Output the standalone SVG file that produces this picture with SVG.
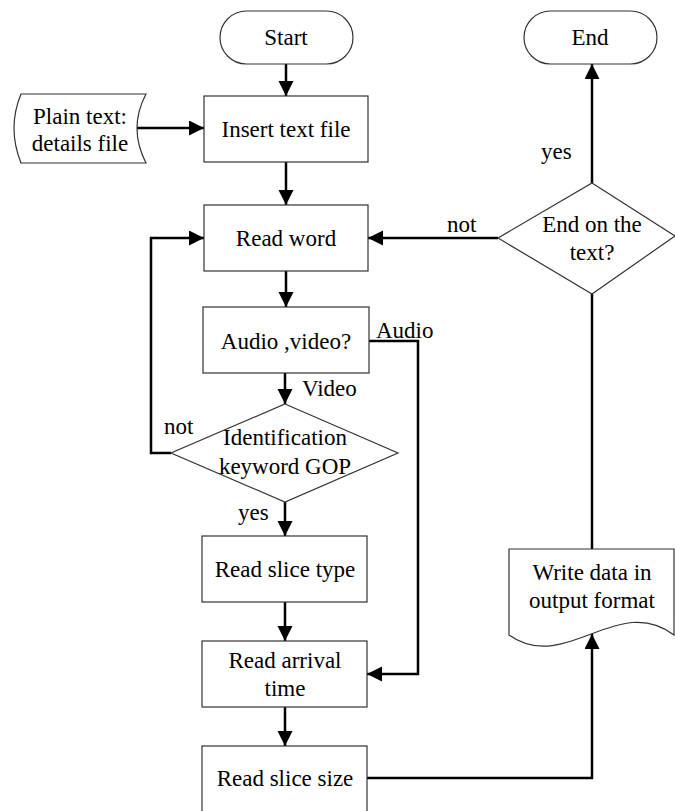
<svg xmlns="http://www.w3.org/2000/svg" width="675" height="811" viewBox="0 0 675 811">
  <defs>
    <marker id="arrow" markerUnits="userSpaceOnUse" markerWidth="16" markerHeight="16" refX="15" refY="7.5" orient="auto">
      <path d="M0,0 L15,7.5 L0,15 Z" fill="#000"/>
    </marker>
  </defs>
  <style>
    .shape { fill: #fff; stroke: #333; stroke-width: 1.2; }
    .conn { fill: none; stroke: #000; stroke-width: 2.5; }
    .arr { marker-end: url(#arrow); }
  </style>
  <rect width="675" height="811" fill="#fff"/>

  <!-- connectors -->
  <g id="connectors">
    <path class="conn arr" d="M286,64 V96"/>
    <path class="conn arr" d="M137,128 H204"/>
    <path class="conn arr" d="M286,162 V205"/>
    <path class="conn arr" d="M286,271 V307"/>
    <path class="conn arr" d="M285,373 V404"/>
    <path class="conn arr" d="M171,453 H151 V238 H204"/>
    <path class="conn arr" d="M285,502 V536"/>
    <path class="conn arr" d="M285,602 V641"/>
    <path class="conn arr" d="M285,707 V746"/>
    <path class="conn arr" d="M369,341 H418 V674 H367"/>
    <path class="conn arr" d="M367,778 H592 V634"/>
    <path class="conn" d="M592,549 V294"/>
    <path class="conn arr" d="M498,238 H368"/>
    <path class="conn arr" d="M592,183 V64"/>
  </g>

  <!-- nodes -->
  <g id="start">
    <rect class="shape" x="220" y="11" width="133" height="53" rx="26.5"/>
    <text font-family="Liberation Serif" font-size="23" text-anchor="middle" x="286" y="45">Start</text>
  </g>
  <g id="end">
    <rect class="shape" x="524" y="11" width="133" height="53" rx="26.5"/>
    <text font-family="Liberation Serif" font-size="23" text-anchor="middle" x="590" y="45">End</text>
  </g>
  <g id="plain-text">
    <path class="shape" d="M21,94 H146 Q128,128 146,163 H21 Q7,128 21,94 Z"/>
    <text font-family="Liberation Serif" font-size="23" text-anchor="middle" x="80" y="124">Plain text:</text>
    <text font-family="Liberation Serif" font-size="23" text-anchor="middle" x="80" y="151">details file</text>
  </g>
  <g id="insert-text-file">
    <rect class="shape" x="204" y="96" width="164" height="66"/>
    <text font-family="Liberation Serif" font-size="23" text-anchor="middle" x="286" y="137">Insert text file</text>
  </g>
  <g id="read-word">
    <rect class="shape" x="204" y="205" width="164" height="66"/>
    <text font-family="Liberation Serif" font-size="23" text-anchor="middle" x="286" y="246">Read word</text>
  </g>
  <g id="audio-video">
    <rect class="shape" x="203" y="307" width="166" height="66"/>
    <text font-family="Liberation Serif" font-size="23" text-anchor="middle" x="286" y="349">Audio ,video?</text>
  </g>
  <g id="identification">
    <path class="shape" d="M285,404 L398,453 L285,502 L171,453 Z"/>
    <text font-family="Liberation Serif" font-size="23" text-anchor="middle" x="285" y="445">Identification</text>
    <text font-family="Liberation Serif" font-size="23" text-anchor="middle" x="285" y="474">keyword GOP</text>
  </g>
  <g id="read-slice-type">
    <rect class="shape" x="202" y="536" width="165" height="66"/>
    <text font-family="Liberation Serif" font-size="23" text-anchor="middle" x="285" y="577">Read slice type</text>
  </g>
  <g id="read-arrival-time">
    <rect class="shape" x="202" y="641" width="165" height="66"/>
    <text font-family="Liberation Serif" font-size="23" text-anchor="middle" x="285" y="668">Read arrival</text>
    <text font-family="Liberation Serif" font-size="23" text-anchor="middle" x="285" y="696">time</text>
  </g>
  <g id="read-slice-size">
    <rect class="shape" x="202" y="746" width="165" height="70"/>
    <text font-family="Liberation Serif" font-size="23" text-anchor="middle" x="285" y="786">Read slice size</text>
  </g>
  <g id="write-data">
    <path class="shape" d="M509,549 H674 V635 C618,592 565,675 509,635 Z"/>
    <text font-family="Liberation Serif" font-size="23" text-anchor="middle" x="592" y="580">Write data in</text>
    <text font-family="Liberation Serif" font-size="23" text-anchor="middle" x="592" y="608">output format</text>
  </g>
  <g id="end-of-text">
    <path class="shape" d="M592,183 L675,236 L592,294 L498,238 Z"/>
    <text font-family="Liberation Serif" font-size="23" text-anchor="middle" x="592" y="232">End on the</text>
    <text font-family="Liberation Serif" font-size="23" text-anchor="middle" x="592" y="260">text?</text>
  </g>

  <!-- branch labels -->
  <g id="labels">
    <text font-family="Liberation Serif" font-size="23" x="376" y="338">Audio</text>
    <text font-family="Liberation Serif" font-size="23" x="302" y="396">Video</text>
    <text font-family="Liberation Serif" font-size="23" x="164" y="434">not</text>
    <text font-family="Liberation Serif" font-size="23" x="238" y="520">yes</text>
    <text font-family="Liberation Serif" font-size="23" x="447" y="232">not</text>
    <text font-family="Liberation Serif" font-size="23" x="541" y="159">yes</text>
  </g>
</svg>
